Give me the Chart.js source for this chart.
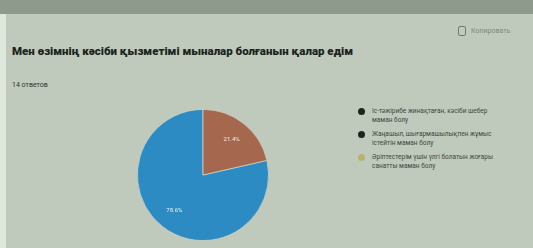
<!DOCTYPE html>
<html>
<head>
<meta charset="utf-8">
<script src="https://cdn.jsdelivr.net/npm/chart.js@4"></script>
<style>
  body { margin: 0; width: 533px; height: 248px; overflow: hidden; background: #b9c5b6; font-family: Roboto, "Noto Sans", sans-serif; }
  .card { position: absolute; left: 6px; top: 14px; width: 527px; height: 234px; background: #bfcabc; }
  .topband { position: absolute; left: 0; top: 0; width: 533px; height: 14px; background: #8e9a8b; }
  .edge { position: absolute; left: 0; top: 14px; width: 6px; height: 234px; background: #dfe6db; }
  .title { position: absolute; left: 12px; top: 44px; font-size: 11.5px; font-weight: 900; color: #1c241d; letter-spacing: 0px; }
  .count { position: absolute; left: 12px; top: 81px; font-size: 7px; color: #2c342c; }
  .copy { position: absolute; left: 458px; top: 26px; font-size: 7px; color: #7d8a7b; }
  .copy span { display: inline-block; width: 6px; height: 8px; border: 1.5px solid #6f7c6d; border-radius: 2px; vertical-align: middle; margin-right: 5px; }
  #c { position: absolute; left: 133px; top: 105px; }
  .legend { position: absolute; left: 358px; top: 107px; width: 145px; font-size: 6.5px; color: #3e463e; line-height: 8.5px; }
  .legend div { position: relative; padding-left: 14px; margin-bottom: 6px; }
  .legend i { position: absolute; left: 0; top: 1px; width: 7px; height: 7px; border-radius: 50%; }
</style>
</head>
<body>
<div class="topband"></div>
<div class="card"></div>
<div class="edge"></div>
<div class="title">Мен өзімнің кәсіби қызметімі мыналар болғанын қалар едім</div>
<div class="count">14 ответов</div>
<div class="copy"><span></span>Копировать</div>
<canvas id="c" width="140" height="140"></canvas>
<div class="legend" id="legend"></div>
<script>
// answers and how many people picked each (14 responses)
const labels = [
  'Іс-тәжірибе жинақтаған, кәсіби шебер маман болу',
  'Жаңашыл, шығармашылықпен жұмыс істейтін маман болу',
  'Әріптестерім үшін үлгі болатын жоғары санатты маман болу'
];
const counts = [11, 3, 0];
const colors = ['#2d8bc4', '#a5674e', '#b9b26a'];
const markerColors = ['#1d241e', '#1d241e', '#b9b26a'];

const total = counts.reduce((a, b) => a + b, 0);

// percent labels on the slices
const pctLabels = {
  id: 'pctLabels',
  afterDatasetsDraw(chart) {
    const ctx = chart.ctx;
    const meta = chart.getDatasetMeta(0);
    ctx.save();
    ctx.fillStyle = '#e8f2f0';
    ctx.font = '6px Roboto';
    ctx.textAlign = 'center';
    ctx.textBaseline = 'middle';
    meta.data.forEach((arc, i) => {
      if (!counts[i]) return;
      const mid = (arc.startAngle + arc.endAngle) / 2;
      const r = arc.outerRadius * 0.7;
      const x = arc.x + Math.cos(mid) * r;
      const y = arc.y + Math.sin(mid) * r;
      ctx.fillText((counts[i] / total * 100).toFixed(1) + '%', x, y);
    });
    ctx.restore();
  }
};

new Chart(document.getElementById('c'), {
  type: 'pie',
  data: {
    labels: labels,
    datasets: [{
      data: counts,
      backgroundColor: colors,
      borderColor: '#c9d3c6',
      borderWidth: 0.8
    }]
  },
  options: {
    responsive: false,
    animation: false,
    // second slice sits at 12 o'clock going clockwise, blue follows it
    rotation: counts[1] / total * 360,
    layout: { padding: 4 },
    plugins: { legend: { display: false }, tooltip: { enabled: false } }
  },
  plugins: [pctLabels]
});

const legend = document.getElementById('legend');
labels.forEach((l, i) => {
  const d = document.createElement('div');
  d.innerHTML = '<i style="background:' + markerColors[i] + '"></i>' + l;
  legend.appendChild(d);
});
</script>
</body>
</html>
